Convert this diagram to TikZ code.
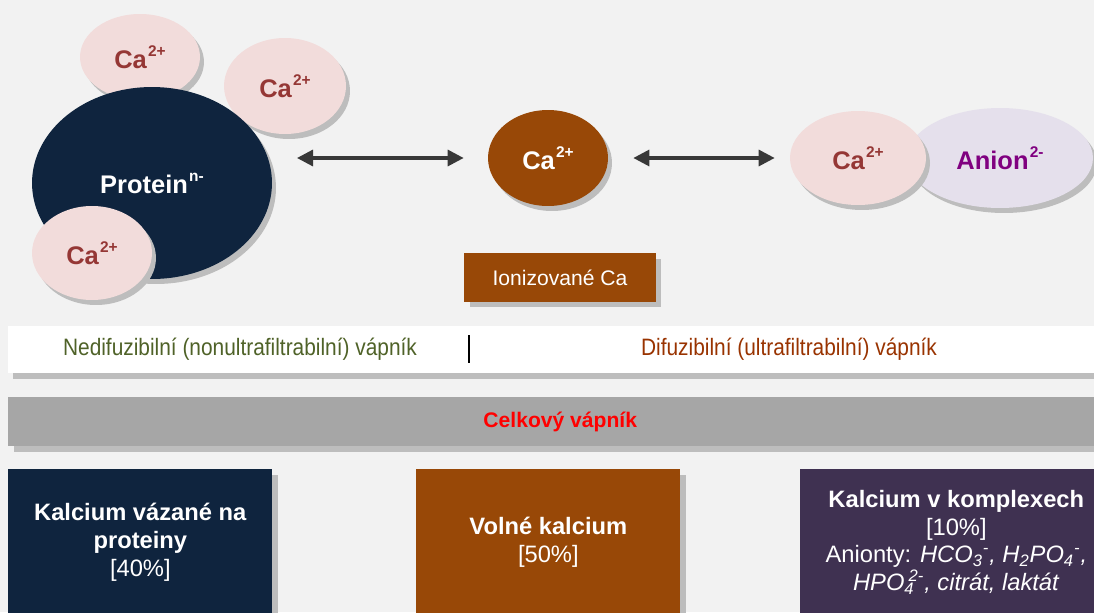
\documentclass[tikz,border=0pt]{standalone}
\usepackage{fontspec}
\setmainfont{Liberation Sans}
\usetikzlibrary{shapes.geometric,arrows.meta,shadows}
\definecolor{bg}{HTML}{F2F2F2}
\definecolor{navy}{HTML}{0F243E}
\definecolor{pinkfill}{HTML}{F2DCDB}
\definecolor{brownfill}{HTML}{984807}
\definecolor{lavender}{HTML}{E5E0EC}
\definecolor{purplebox}{HTML}{3F3151}
\definecolor{catext}{HTML}{953735}
\definecolor{aniontext}{HTML}{800080}
\definecolor{olivetext}{HTML}{4F6228}
\definecolor{difftext}{HTML}{993300}
\definecolor{shadowgray}{HTML}{BDBDBD}
\definecolor{bandgray}{HTML}{A6A6A6}
\definecolor{arrowgray}{HTML}{383838}
\newcommand\spr[1]{\kern0.05em\raisebox{0.47em}{\fontsize{8.8pt}{9pt}\selectfont\bfseries #1}}
\begin{document}
\begin{tikzpicture}[x=0.02cm,y=-0.02cm,
  shad/.style={drop shadow={shadow xshift=0.08cm, shadow yshift=-0.1cm, opacity=1, fill=shadowgray}},
  boxshad/.style={drop shadow={shadow xshift=0.11cm, shadow yshift=-0.11cm, opacity=1, fill=shadowgray}},
  bigfont/.style={font=\fontsize{14.5pt}{17pt}\selectfont\bfseries},
  caball/.style={ellipse, fill=pinkfill, shad, text=catext, bigfont, inner sep=0pt},
  bandtext/.style={font=\fontsize{13.5pt}{16pt}\selectfont},
  bottombox/.style={rectangle, anchor=north west, inner sep=0pt, boxshad, text=white, align=center,
     minimum height=2.92cm, font=\fontsize{13.5pt}{15.8pt}\selectfont},
  dbl/.style={{Triangle[length=0.32cm,width=0.32cm]}-{Triangle[length=0.32cm,width=0.32cm]},
     line width=1.8pt, draw=arrowgray}
]
\clip (0,0) rectangle (1094,612);
\fill[bg] (0,0) rectangle (1094,612);

% protein complex
\node[caball, minimum width=2.4cm, minimum height=1.72cm] (ca1) at (140,57) {Ca\spr{2+}};
\node[caball, minimum width=2.44cm, minimum height=1.92cm] (ca2) at (285,86) {Ca\spr{2+}};
\node[ellipse, fill=navy, shad, inner sep=0pt, minimum width=4.8cm, minimum height=3.84cm,
      text=white, bigfont] (prot) at (152,183) {Protein\spr{n-}};
\node[caball, minimum width=2.4cm, minimum height=1.88cm] (ca3) at (92,253) {Ca\spr{2+}};

% ionized calcium
\node[ellipse, fill=brownfill, shad, inner sep=0pt, minimum width=2.4cm, minimum height=1.92cm,
      text=white, bigfont] (cac) at (548,158) {Ca\spr{2+}};
\node[rectangle, fill=brownfill, boxshad, minimum width=3.84cm, minimum height=0.98cm, inner sep=0pt,
      text=white, font=\fontsize{12pt}{14pt}\selectfont] (ion) at (560,277.5) {Ionizované Ca};

% complex
\node[ellipse, fill=lavender, shad, inner sep=0pt, minimum width=3.72cm, minimum height=2.0cm,
      text=aniontext, bigfont] (anion) at (1000,158) {Anion\spr{2-}};
\node[caball, minimum width=2.72cm, minimum height=1.88cm] (car) at (858,158) {Ca\spr{2+}};

% arrows
\coordinate (a1) at (297,158);
\draw[dbl, shorten >=0.48cm] (a1) -- (cac.west);
\draw[dbl, shorten <=0.5cm, shorten >=0.3cm] (cac.east) -- (car.west);

% white band
\node[rectangle, anchor=north west, fill=white, inner sep=0pt, minimum width=9.22cm, minimum height=0.94cm,
      drop shadow={shadow xshift=0.1cm, shadow yshift=-0.12cm, opacity=1, fill=shadowgray}] (ndbox) at (8,326) {};
\node[rectangle, anchor=north west, fill=white, inner sep=0pt, minimum width=12.8cm, minimum height=0.94cm,
      drop shadow={shadow xshift=0.1cm, shadow yshift=-0.12cm, opacity=1, fill=shadowgray}] (dbox) at (469,326) {};
\node[bandtext, text=olivetext] (ndtext) at (240,349.5) {\scalebox{0.88}[1]{Nedifuzibilní (nonultrafiltrabilní) vápník}};
\node[bandtext, text=difftext] (dtext) at (789,349.5) {\scalebox{0.88}[1]{Difuzibilní (ultrafiltrabilní) vápník}};
\draw[line width=1.1pt, black] (469,335) -- (469,363);

% gray band
\node[rectangle, anchor=north west, fill=bandgray, inner sep=0pt, minimum width=22.08cm, minimum height=0.98cm,
      drop shadow={shadow xshift=0.12cm, shadow yshift=-0.12cm, opacity=1, fill=shadowgray},
      text=red, font=\fontsize{12pt}{14pt}\selectfont\bfseries] (total) at (8,397) {Celkový vápník};

% bottom boxes
\node[bottombox, fill=navy, minimum width=5.28cm] (bprot) at (8,469)
  {\textbf{Kalcium vázané na}\\\textbf{proteiny}\\{}[40\%]};
\node[bottombox, fill=brownfill, minimum width=5.28cm] (bfree) at (416,469)
  {\textbf{Volné kalcium}\\{}[50\%]};
\node[bottombox, fill=purplebox, minimum width=6.24cm] (bcomp) at (800,469)
  {\textbf{Kalcium v komplexech}\\{}[10\%]\\
   Anionty: \textit{HCO\textsubscript{3}\textsuperscript{-}, H\textsubscript{2}PO\textsubscript{4}\textsuperscript{-},}\\
   \textit{HPO\textsubscript{4}\kern-0.25em\textsuperscript{2-}, citrát, laktát}};
\end{tikzpicture}
\end{document}
